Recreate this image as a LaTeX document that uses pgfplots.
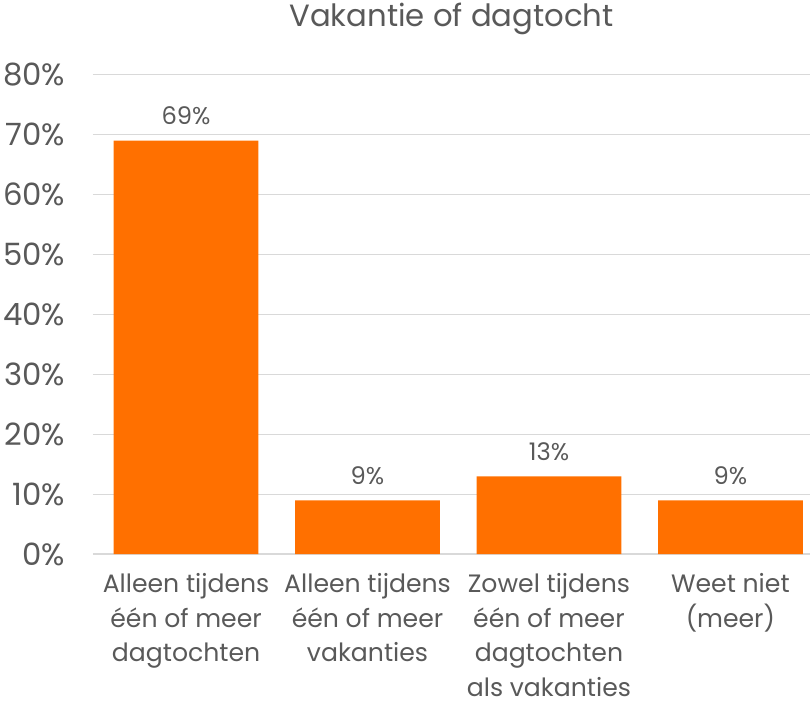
\documentclass[border=0pt]{standalone}
\usepackage{fontspec}
\setmainfont{Poppins}[Scale=0.92]
\usepackage{pgfplots}
\pgfplotsset{compat=1.18}
\definecolor{barorange}{HTML}{FF7000}
\definecolor{txtgray}{HTML}{595959}
\definecolor{gridgray}{HTML}{D9D9D9}

\begin{document}
\begin{tikzpicture}
\begin{axis}[
  ybar,
  bar width=143pt,
  scale only axis,
  width=709pt,
  height=474pt,
  ymin=0, ymax=80,
  xmin=-0.514, xmax=3.44,
  ytick={0,10,...,80},
  yticklabel={\pgfmathprintnumber{\tick}\%},
  /pgf/number format/assume math mode=true,
  yticklabel style={font=\fontsize{33}{38}\selectfont, text=txtgray, xshift=-24pt},
  xtick={0,1,2,3},
  xticklabels={{Alleen tijdens\\één of meer\\dagtochten},
               {Alleen tijdens\\één of meer\\vakanties},
               {Zowel tijdens\\één of meer\\dagtochten\\als vakanties},
               {Weet niet\\(meer)}},
  xticklabel style={font=\fontsize{27}{34}\selectfont, text=txtgray,
    align=center, anchor=north, yshift=-16pt},
  major tick length=0pt,
  ymajorgrids,
  grid style={gridgray, line width=1.5pt},
  axis line style={draw=none},
  axis x line*=bottom,
  x axis line style={draw=gridgray, line width=1.5pt, -},
  nodes near coords={\pgfmathprintnumber{\pgfplotspointmeta}\%},
  every node near coord/.append style={font=\fontsize{26}{30}\selectfont, text=txtgray, yshift=12pt},
  title={Vakantie of dagtocht},
  title style={font=\fontsize{33}{38}\selectfont, text=txtgray, yshift=30pt},
  clip=false,
]
\addplot[fill=barorange, draw=none] coordinates {
  (0, 69)
  (1, 9)
  (2, 13)
  (3, 9)
};
\end{axis}
\path (current bounding box.south) ++(0,-4pt) coordinate (bbextra);
\useasboundingbox (current bounding box.north east) rectangle (bbextra);
\end{tikzpicture}
\end{document}
